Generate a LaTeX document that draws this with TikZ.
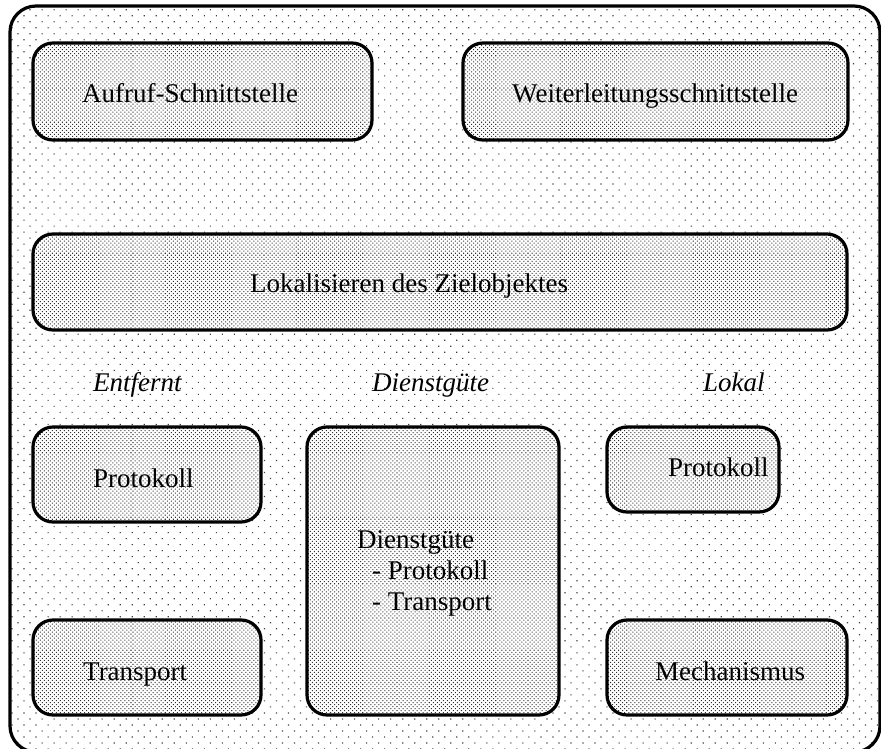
\documentclass[tikz,border=0pt]{standalone}
\usepackage{fontspec}
\setmainfont{Liberation Serif}
\usetikzlibrary{patterns.meta}

\tikzset{
  frame/.style={draw, line width=3.2pt, rounded corners=26pt, inner sep=0pt,
    preaction={fill=white},
    pattern={Dots[distance=8.5pt, radius=0.8pt, angle=45]},
    pattern color=black!75},
  panel/.style={draw, line width=3.2pt, rounded corners=20pt, inner sep=0pt,
    preaction={fill=white},
    pattern={Dots[distance=2.85pt, radius=0.72pt, angle=45]},
    pattern color=black!80},
  txt/.style={font=\fontsize{27}{31}\selectfont, inner sep=0pt, anchor=base west},
  itxt/.style={txt, font=\fontsize{27}{31}\selectfont\itshape},
}

\begin{document}
\begin{tikzpicture}[x=1pt, y=-1pt]
  \useasboundingbox (0,0) rectangle (881,749);

  % outer frame
  \node[frame, minimum width=870pt, minimum height=746pt] (outer) at (445,379) {};

  % boxes
  \node[panel, minimum width=339pt, minimum height=97pt] (aufruf) at (202.5,91.5) {};
  \node[panel, minimum width=385pt, minimum height=97pt] (weiter) at (655.5,91.5) {};
  \node[panel, minimum width=814pt, minimum height=96pt] (lokalis) at (440,282) {};
  \node[panel, minimum width=228pt, minimum height=95pt] (protoL) at (147,474.5) {};
  \node[panel, minimum width=252pt, minimum height=288pt] (qos) at (433,571) {};
  \node[panel, minimum width=172pt, minimum height=85pt] (protoR) at (693,469.5) {};
  \node[panel, minimum width=228pt, minimum height=95pt] (transp) at (147,667.5) {};
  \node[panel, minimum width=240pt, minimum height=95pt] (mech) at (727,667.5) {};

  % texts
  \node[txt] (tAufruf) at (82,103) {Aufruf-Schnittstelle};
  \node[txt] (tWeiter) at (512,103) {Weiterleitungsschnittstelle};
  \node[txt] (tLokalis) at (250,292) {Lokalisieren des Zielobjektes};
  \node[itxt] (tEntfernt) at (93,391) {Entfernt};
  \node[itxt] (tDienst) at (372,391) {Dienstgüte};
  \node[itxt] (tLokal) at (703,391) {Lokal};
  \node[txt] (tProtoL) at (93,487) {Protokoll};
  \node[txt] (tProtoR) at (668,476) {Protokoll};
  \node[txt] (tQos1) at (357,548) {Dienstgüte};
  \node[txt] (tQos2) at (372,579) {- Protokoll};
  \node[txt] (tQos3) at (372,610) {- Transport};
  \node[txt] (tTransp) at (83,680) {Transport};
  \node[txt] (tMech) at (655,680) {Mechanismus};
\end{tikzpicture}
\end{document}
